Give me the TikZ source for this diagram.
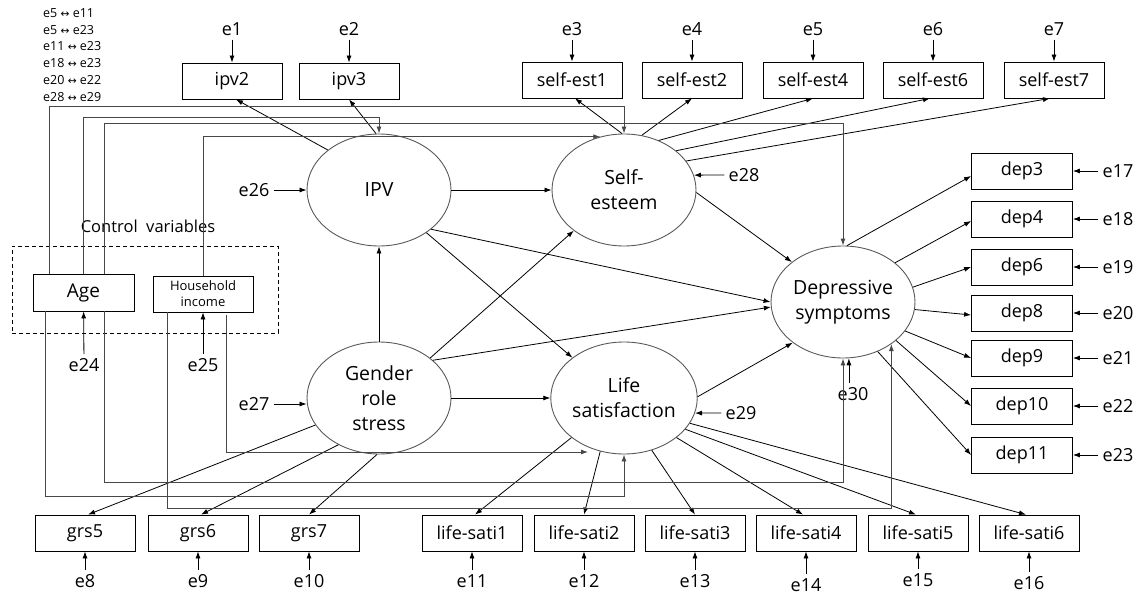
\documentclass[tikz,border=0pt]{standalone}
\usepackage{fontspec}
\setmainfont{Open Sans}
\newfontfamily\symfont{DejaVu Sans}
\usetikzlibrary{arrows.meta,shapes.geometric,calc}

\newcommand{\lr}{\ {\symfont\scalebox{0.85}{↔}}\ }

\begin{document}
\begin{tikzpicture}[x=1pt,y=-1pt,
  ind/.style={draw, line width=0.8pt, minimum width=100pt, minimum height=36pt,
              inner sep=0pt, font=\fontsize{18}{20}\selectfont},
  lat/.style={draw=black!65, line width=0.9pt, ellipse, minimum width=144pt,
              minimum height=112pt, inner sep=0pt, align=center,
              font=\fontsize{19.5}{25}\selectfont},
  err/.style={inner sep=4pt, font=\fontsize{18}{20}\selectfont},
  cov/.style={anchor=west, inner sep=0pt, font=\fontsize{12.5}{14}\selectfont},
  arr/.style={-{Latex[length=7pt,width=5pt]}, line width=0.8pt},
  ctl/.style={arr, draw=black!72, line width=0.9pt},
]
\useasboundingbox (0,0) rectangle (1140,596);

% residual covariances
\node[cov] (c1) at (43,13) {e5\lr e11};
\node[cov] (c2) at (43,30) {e5\lr e23};
\node[cov] (c3) at (43,46) {e11\lr e23};
\node[cov] (c4) at (43,63) {e18\lr e23};
\node[cov] (c5) at (43,80) {e20\lr e22};
\node[cov] (c6) at (43,97) {e28\lr e29};

% top indicators
\node[ind] (ipv2) at (232,81) {ipv2};
\node[ind] (ipv3) at (349,81) {ipv3};
\node[ind] (se1) at (572,80) {self-est1};
\node[ind] (se2) at (692,80) {self-est2};
\node[ind] (se4) at (813,80) {self-est4};
\node[ind] (se6) at (933,80) {self-est6};
\node[ind] (se7) at (1054,80) {self-est7};
\foreach \n/\b/\x in {e1/ipv2/232, e2/ipv3/349, e3/se1/572, e4/se2/692,
                      e5/se4/813, e6/se6/933, e7/se7/1054}{
  \node[err] (\n) at (\x,29) {\n};
  \draw[arr] (\n) -- (\b);
}

% latent variables
\node[lat] (ipv) at (379,190) {IPV};
\node[lat] (se)  at (624,190) {Self-\\esteem};
\node[lat] (dep) at (843,302) {Depressive\\symptoms};
\node[lat] (grs) at (379,398) {Gender\\role\\stress};
\node[lat] (ls)  at (624,398) {Life\\satisfaction};

% depressive symptom indicators
\foreach \n/\y/\e in {3/171/17, 4/219/18, 6/267/19, 8/313/20, 9/358/21, 10/406/22, 11/455/23}{
  \node[ind, minimum width=101pt] (d\n) at (1022,\y) {dep\n};
  \node[err] (e\e) at (1118,\y) {e\e};
  \draw[arr] (e\e) -- (d\n);
}

% bottom indicators
\foreach \n/\t/\x/\e/\ey in {grs5/grs5/85/8/581, grs6/grs6/198/9/581, grs7/grs7/309/10/581,
    ls1/life-sati1/472/11/581, ls2/life-sati2/584/12/581, ls3/life-sati3/695/13/581,
    ls4/life-sati4/806/14/585, ls5/life-sati5/918/15/580, ls6/life-sati6/1029/16/583}{
  \node[ind] (\n) at (\x,533) {\t};
  \node[err] (e\e) at (\x,\ey) {e\e};
  \draw[arr] (e\e) -- (\n);
}

% control variables
\node[draw, dashed, line width=0.8pt, dash pattern=on 4pt off 3pt,
      minimum width=266pt, minimum height=87pt, inner sep=0pt] (ctrl) at (145,289.5) {};
\node[font=\fontsize{16.5}{18}\selectfont, inner sep=0pt] (ctrllab) at (148,226) {Control\ \ variables};
\node[ind, minimum width=101pt, minimum height=37pt, font=\fontsize{19}{20}\selectfont] (age) at (83.5,292.5) {Age};
\node[ind, align=center, font=\fontsize{13}{16}\selectfont] (hi) at (203,294) {Household\\income};
\node[err] (e24) at (84,365) {e24};
\node[err] (e25) at (203,365) {e25};
\draw[arr] (e24) -- (age);
\draw[arr] (e25) -- (hi);

% disturbances
\node[err] (e26) at (254,190) {e26};
\node[err] (e27) at (254,404) {e27};
\node[err] (e28) at (744,175) {e28};
\node[err] (e29) at (741,413) {e29};
\node[err] (e30) at (853,394) {e30};
\draw[arr] (e26) -- (ipv.west);
\draw[arr] (e27.east) -- (e27.east -| grs.west);
\draw[arr] (e28.west) -- (se.12);
\draw[arr] (e29.west) -- (ls.-12);
\draw[arr] (dep.-84 |- e30.north) -- (dep.-84);

% measurement paths
\draw[arr] (ipv.142) -- ([xshift=4pt]ipv2.south);
\draw[arr] (ipv.93) -- (ipv3.south);
\draw[arr] (se.92) -- ([xshift=3pt]se1.south);
\draw[arr] (se.72) -- (se2.south);
\draw[arr] (se.55) -- (se4.south);
\draw[arr] (se.37) -- ([xshift=-3pt]se6.south);
\draw[arr] (se.25) -- ([xshift=-4pt]se7.south);
\draw[arr] (dep.86) -- ([yshift=-5pt]d3.west);
\draw[arr] (dep.37) -- ([yshift=-2pt]d4.west);
\draw[arr] (dep.12) -- (d6.west);
\draw[arr] (dep.-6) -- ([yshift=-2pt]d8.west);
\draw[arr] (dep.-25) -- (d9.west);
\draw[arr] (dep.-36) -- (d10.west);
\draw[arr] (dep.-55) -- (d11.west);
\draw[arr] (grs.203) -- ([xshift=3pt]grs5.north);
\draw[arr] (grs.229) -- ([xshift=3pt]grs6.north);
\draw[arr] (grs.268) -- (grs7.north);
\draw[arr] (ls.217) -- ([xshift=3pt]ls1.north);
\draw[arr] (ls.246) -- (ls2.north);
\draw[arr] (ls.-62) -- (ls3.north);
\draw[arr] (ls.-37) -- ([xshift=-3pt]ls4.north);
\draw[arr] (ls.-27) -- ([xshift=-2pt]ls5.north);
\draw[arr] (ls.-21) -- ([xshift=-3pt]ls6.north);

% structural paths
\draw[arr] (ipv.east) -- (se.west);
\draw[arr] (ipv.-37) -- (dep.180);
\draw[arr] (ipv.-42) -- (ls.142);
\draw[arr] (grs.north) -- (ipv.south);
\draw[arr] (grs.38) -- (se.219.5);
\draw[arr] (grs.35) -- (dep.184);
\draw[arr] (grs.east) -- (ls.west);
\draw[arr] (se.-2) -- (dep.142);
\draw[arr] (ls.1) -- (dep.219);

% paths from the control variables
\coordinate (lsin) at (588,452);
\draw[ctl] (49,0 |- age.north) -- (49,106) -| (se.north);
\draw[ctl] (83,0 |- age.north) -- (83,117) -| (ipv.north);
\draw[ctl] (104,0 |- age.north) -- (104,123) -| (dep.north);
\draw[ctl] (203,0 |- hi.north) |- (se.114);
\draw[ctl] (45,0 |- age.south) -- (45,496) -| (ls.south);
\draw[ctl] (104,0 |- age.south) -- (104,482) -| (dep.south);
\draw[ctl] (167,0 |- hi.south) -- (167,508) -| (dep.-41);
\draw[ctl] ($(hi.south east)+(-27,3)$) |- (lsin);
\end{tikzpicture}
\end{document}
